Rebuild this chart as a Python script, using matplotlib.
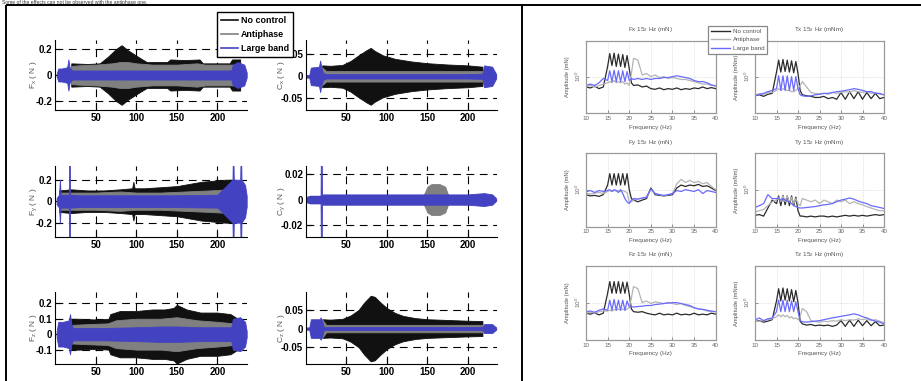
import numpy as np
import matplotlib
matplotlib.use('Agg')
import matplotlib.pyplot as plt
from matplotlib.lines import Line2D
from matplotlib.ticker import NullLocator

plt.rcParams['font.family'] = ['Liberation Sans', 'DejaVu Sans']
plt.rcParams['mathtext.fontset'] = 'custom'
plt.rcParams['mathtext.rm'] = 'Liberation Sans'
plt.rcParams['mathtext.it'] = 'Liberation Sans:italic'
plt.rcParams['axes.unicode_minus'] = False

# ---------------- left panel: time signals (envelopes, N) ----------------
series_names = ['No control', 'Antiphase', 'Large band']
left_colors = ['#111111', '#808080', '#4343c2']

# Fx
fx_black_t = [20, 40, 55, 65, 75, 82, 90, 105, 113, 138, 142, 160, 178, 182, 200, 215, 218, 228]
fx_black_a = [0.09, 0.085, 0.09, 0.14, 0.2, 0.23, 0.19, 0.13, 0.1, 0.1, 0.12, 0.115, 0.12, 0.09, 0.09, 0.09, 0.12, 0.12]
fx_grey_t = [20, 30, 50, 70, 80, 90, 100, 120, 150, 175, 185, 200, 220, 228]
fx_grey_a = [0.07, 0.075, 0.08, 0.09, 0.1, 0.1, 0.09, 0.08, 0.08, 0.09, 0.08, 0.08, 0.08, 0.07]
fx_blue_t = [2, 4, 8, 15, 16.5, 18, 20, 22, 60, 100, 150, 200, 217, 219, 225, 233, 236]
fx_blue_a = [0.01, 0.05, 0.05, 0.06, 0.12, 0.06, 0.04, 0.035, 0.035, 0.035, 0.035, 0.035, 0.035, 0.08, 0.1, 0.08, 0.02]

# Cx
cx_black_t = [20, 30, 45, 55, 65, 75, 80, 85, 95, 110, 130, 150, 175, 200, 218]
cx_black_a = [0.025, 0.024, 0.026, 0.035, 0.048, 0.06, 0.065, 0.058, 0.048, 0.04, 0.034, 0.03, 0.027, 0.025, 0.022]
cx_grey_t = [18, 20, 25, 218]
cx_grey_a = [0.01, 0.02, 0.012, 0.012]
cx_blue_t = [0, 4, 6, 16, 17.5, 19, 21, 25, 100, 200, 218, 220, 230, 235]
cx_blue_a = [0.003, 0.003, 0.02, 0.022, 0.036, 0.02, 0.008, 0.005, 0.005, 0.005, 0.006, 0.025, 0.022, 0.005]

# Fy
fy_black_t = [5, 20, 40, 60, 80, 95, 96.5, 98, 110, 130, 150, 165, 180, 195, 210, 218]
fy_black_a = [0.1, 0.11, 0.1, 0.1, 0.11, 0.12, 0.18, 0.12, 0.12, 0.13, 0.14, 0.16, 0.18, 0.19, 0.2, 0.2]
fy_grey_t = [5, 20, 50, 80, 100, 130, 160, 190, 215, 218]
fy_grey_a = [0.08, 0.08, 0.08, 0.09, 0.08, 0.08, 0.09, 0.1, 0.11, 0.1]
fy_blue_t = [2, 5, 6, 7, 17, 17.3, 18.3, 18.6, 30, 100, 150, 200, 218.5, 218.8, 219.8, 220.1, 228, 228.3, 229.3, 229.6, 234, 236]
fy_blue_a = [0.03, 0.06, 0.2, 0.06, 0.06, 0.33, 0.33, 0.06, 0.055, 0.055, 0.055, 0.06, 0.2, 0.33, 0.33, 0.2, 0.2, 0.33, 0.33, 0.2, 0.15, 0.05]

# Cy
cy_black_t = [5, 218]
cy_black_a = [0.003, 0.003]
cy_grey_t = [145, 150, 155, 165, 172, 176]
cy_grey_a = [0.003, 0.01, 0.012, 0.012, 0.01, 0.003]
cy_blue_t = [0, 5, 18, 18.3, 19.5, 19.8, 22, 100, 150, 200, 220, 230, 235]
cy_blue_a = [0.002, 0.003, 0.003, 0.029, 0.029, 0.004, 0.004, 0.004, 0.004, 0.004, 0.005, 0.004, 0.001]

# Fz
fz_black_t = [20, 30, 50, 66, 68, 80, 100, 120, 135, 146, 150, 162, 179, 200, 216, 225]
fz_black_a = [0.1, 0.1, 0.095, 0.1, 0.13, 0.15, 0.15, 0.16, 0.16, 0.17, 0.19, 0.16, 0.14, 0.14, 0.13, 0.1]
fz_grey_t = [20, 40, 65, 75, 100, 130, 150, 175, 200, 220]
fz_grey_a = [0.06, 0.065, 0.07, 0.09, 0.1, 0.1, 0.11, 0.09, 0.08, 0.07]
fz_blue_t = [2, 4, 10, 17, 18.5, 20, 22, 60, 100, 130, 150, 180, 217, 219, 228, 234, 236]
fz_blue_a = [0.02, 0.08, 0.08, 0.09, 0.13, 0.07, 0.04, 0.04, 0.045, 0.05, 0.05, 0.045, 0.045, 0.1, 0.11, 0.08, 0.02]

# Cz
cz_black_t = [20, 30, 45, 55, 65, 72, 80, 85, 92, 100, 110, 120, 135, 150, 175, 200, 218]
cz_black_a = [0.025, 0.024, 0.026, 0.035, 0.05, 0.07, 0.088, 0.085, 0.07, 0.055, 0.042, 0.034, 0.028, 0.025, 0.023, 0.021, 0.02]
cz_grey_t = [18, 20, 25, 218]
cz_grey_a = [0.012, 0.025, 0.01, 0.01]
cz_blue_t = [0, 4, 6, 17, 18, 20, 22, 100, 200, 218, 220, 230, 235]
cz_blue_a = [0.003, 0.003, 0.025, 0.025, 0.03, 0.02, 0.004, 0.004, 0.004, 0.004, 0.012, 0.012, 0.003]

left_ylabels = ['F$_\\mathrm{x}$ ( N )', 'C$_\\mathrm{x}$ ( N )', 'F$_\\mathrm{y}$ ( N )',
                'C$_\\mathrm{y}$ ( N )', 'F$_\\mathrm{z}$ ( N )', 'C$_\\mathrm{z}$ ( N )']
left_yticks = [[-0.2, 0, 0.2], [-0.05, 0, 0.05], [-0.2, 0, 0.2],
               [-0.02, 0, 0.02], [-0.1, 0, 0.1, 0.2], [-0.05, 0, 0.05]]
left_ylims = [(-0.27, 0.27), (-0.077, 0.083), (-0.333, 0.327),
              (-0.029, 0.026), (-0.193, 0.273), (-0.095, 0.098)]
left_xticks = [50, 100, 150, 200]

# ---------------- right panel: spectra ----------------
freq = [10, 11, 12, 13, 14, 15, 15.5, 16, 16.5, 17, 17.5, 18, 18.5, 19, 19.5, 20, 20.5,
        21, 22, 23, 24, 25, 26, 27, 28, 29, 30, 31, 32, 33, 34, 35, 36, 37, 38, 39, 40]

fx_spec_black = [0.55, 0.52, 0.58, 0.5, 0.55, 1.8, 3.8, 1.9, 3.9, 1.8, 3.7, 1.8, 3.6, 1.7, 3.4, 1.6, 0.7,
                 0.6, 0.62, 0.55, 0.58, 0.5, 0.48, 0.52, 0.47, 0.5, 0.48, 0.52, 0.47, 0.5, 0.48, 0.52, 0.5, 0.55, 0.5, 0.53, 0.5]
fx_spec_grey = [0.55, 0.6, 0.55, 0.6, 0.65, 0.7, 0.75, 0.7, 0.8, 0.7, 0.75, 0.7, 0.75, 0.65, 0.7, 0.6, 1.2,
                2.9, 2.6, 1.1, 1.2, 1.0, 1.1, 0.95, 1.0, 0.9, 0.95, 0.9, 0.85, 0.85, 0.8, 0.75, 0.7, 0.65, 0.65, 0.6, 0.6]
fx_spec_blue = [0.6, 0.65, 0.6, 0.7, 0.9, 0.8, 1.4, 0.75, 1.45, 0.75, 1.4, 0.75, 1.4, 0.75, 1.35, 0.8, 0.9,
                0.85, 0.9, 0.85, 0.9, 0.85, 0.9, 0.9, 0.95, 0.95, 1.0, 1.05, 1.0, 0.95, 0.9, 0.8, 0.75, 0.75, 0.7, 0.62, 0.58]

tx_spec_black = [0.33, 0.35, 0.32, 0.36, 0.38, 1.3, 2.6, 1.3, 2.7, 1.35, 2.6, 1.3, 2.5, 1.25, 2.4, 1.2, 0.45,
                 0.35, 0.33, 0.32, 0.3, 0.3, 0.32, 0.28, 0.3, 0.27, 0.4, 0.27, 0.42, 0.28, 0.42, 0.27, 0.4, 0.28, 0.38, 0.28, 0.3]
tx_spec_grey = [0.35, 0.37, 0.36, 0.4, 0.4, 0.45, 0.5, 0.45, 0.5, 0.48, 0.45, 0.45, 0.42, 0.42, 0.45, 0.5, 0.6,
                0.75, 0.55, 0.4, 0.38, 0.37, 0.38, 0.36, 0.4, 0.38, 0.4, 0.42, 0.4, 0.45, 0.42, 0.4, 0.42, 0.38, 0.4, 0.36, 0.35]
tx_spec_blue = [0.33, 0.36, 0.38, 0.42, 0.45, 0.5, 1.05, 0.45, 1.05, 0.45, 1.05, 0.45, 1.0, 0.45, 1.0, 0.5, 0.35,
                0.33, 0.32, 0.33, 0.35, 0.36, 0.38, 0.38, 0.4, 0.42, 0.43, 0.45, 0.47, 0.5, 0.48, 0.45, 0.42, 0.42, 0.38, 0.38, 0.35]

fy_spec_black = [0.75, 0.7, 0.72, 0.68, 0.75, 1.3, 2.5, 1.3, 2.5, 1.3, 2.5, 1.3, 2.5, 1.3, 2.5, 1.0, 0.6,
                 0.55, 0.5, 0.55, 0.6, 1.1, 0.75, 0.72, 0.7, 0.72, 0.75, 1.1, 1.3, 1.2, 1.3, 1.25, 1.35, 1.2, 1.25, 1.1, 0.95]
fy_spec_grey = [0.8, 0.78, 0.82, 0.85, 0.8, 0.9, 0.95, 0.9, 0.95, 0.92, 0.95, 0.9, 0.95, 0.9, 0.85, 0.5, 0.5,
                0.55, 0.6, 0.6, 0.65, 1.0, 0.8, 0.75, 0.7, 0.75, 0.8, 1.4, 1.8, 1.5, 1.7, 1.5, 1.6, 1.4, 1.5, 1.2, 1.0]
fy_spec_blue = [0.88, 0.95, 0.85, 0.95, 0.9, 0.95, 1.0, 0.9, 1.0, 0.95, 0.85, 1.0, 0.8, 0.6, 0.5, 0.45, 0.55,
                0.6, 0.58, 0.62, 0.65, 1.05, 0.8, 0.75, 0.72, 0.75, 0.8, 0.95, 0.9, 1.0, 0.95, 0.9, 1.0, 0.8, 0.95, 0.9, 0.85]

ty_spec_black = [0.23, 0.24, 0.22, 0.35, 0.55, 0.45, 0.7, 0.4, 0.72, 0.42, 0.7, 0.4, 0.7, 0.4, 0.65, 0.3, 0.22,
                 0.22, 0.21, 0.22, 0.21, 0.22, 0.22, 0.21, 0.22, 0.21, 0.22, 0.23, 0.22, 0.23, 0.22, 0.23, 0.22, 0.23, 0.24, 0.23, 0.24]
ty_spec_grey = [0.28, 0.3, 0.32, 0.4, 0.5, 0.55, 0.65, 0.5, 0.7, 0.5, 0.7, 0.48, 0.65, 0.45, 0.6, 0.45, 0.4,
                0.6, 0.55, 0.5, 0.55, 0.45, 0.55, 0.5, 0.45, 0.55, 0.5, 0.55, 0.45, 0.5, 0.45, 0.42, 0.38, 0.35, 0.32, 0.3, 0.3]
ty_spec_blue = [0.36, 0.4, 0.45, 0.75, 0.6, 0.6, 0.62, 0.55, 0.6, 0.55, 0.52, 0.5, 0.45, 0.4, 0.38, 0.36, 0.35,
                0.35, 0.36, 0.37, 0.38, 0.4, 0.42, 0.43, 0.45, 0.5, 0.55, 0.58, 0.62, 0.58, 0.52, 0.48, 0.45, 0.4, 0.38, 0.36, 0.34]

fz_spec_black = [0.55, 0.52, 0.56, 0.5, 0.55, 1.7, 3.3, 1.7, 3.3, 1.7, 3.3, 1.7, 3.2, 1.7, 3.2, 1.6, 0.7,
                 0.6, 0.58, 0.6, 0.55, 0.52, 0.5, 0.55, 0.5, 0.52, 0.5, 0.55, 0.5, 0.52, 0.5, 0.55, 0.5, 0.52, 0.5, 0.55, 0.52]
fz_spec_grey = [0.55, 0.58, 0.55, 0.6, 0.62, 0.62, 0.65, 0.62, 0.68, 0.65, 0.7, 0.65, 0.7, 0.65, 0.7, 0.75, 1.3,
                2.5, 2.2, 1.0, 1.1, 0.95, 1.05, 1.0, 0.95, 1.0, 0.95, 0.9, 0.95, 0.85, 0.8, 0.75, 0.7, 0.68, 0.62, 0.6, 0.6]
fz_spec_blue = [0.6, 0.62, 0.58, 0.65, 0.7, 0.65, 1.15, 0.65, 1.2, 0.65, 1.15, 0.65, 1.15, 0.65, 1.1, 0.8, 0.8,
                0.78, 0.8, 0.82, 0.85, 0.85, 0.9, 0.92, 0.95, 0.98, 1.0, 1.0, 0.95, 0.9, 0.85, 0.75, 0.7, 0.68, 0.65, 0.62, 0.6]

tz_spec_black = [0.34, 0.36, 0.33, 0.35, 0.38, 1.1, 2.2, 1.1, 2.3, 1.15, 2.2, 1.1, 2.1, 1.05, 2.0, 1.0, 0.35,
                 0.3, 0.28, 0.29, 0.27, 0.28, 0.27, 0.28, 0.26, 0.28, 0.36, 0.26, 0.37, 0.26, 0.37, 0.27, 0.36, 0.27, 0.34, 0.27, 0.28]
tz_spec_grey = [0.34, 0.35, 0.36, 0.38, 0.4, 0.45, 0.5, 0.45, 0.5, 0.45, 0.48, 0.42, 0.45, 0.4, 0.42, 0.38, 0.45,
                0.72, 0.6, 0.36, 0.34, 0.33, 0.35, 0.34, 0.36, 0.35, 0.38, 0.36, 0.38, 0.37, 0.4, 0.38, 0.4, 0.36, 0.38, 0.35, 0.32]
tz_spec_blue = [0.37, 0.42, 0.36, 0.4, 0.42, 0.6, 1.16, 0.6, 1.15, 0.6, 1.15, 0.6, 1.1, 0.6, 1.05, 0.6, 0.36,
                0.34, 0.33, 0.34, 0.35, 0.36, 0.38, 0.4, 0.42, 0.44, 0.46, 0.48, 0.5, 0.53, 0.5, 0.45, 0.42, 0.38, 0.35, 0.33, 0.3]

right_titles = ['Fx 15$_2$ Hz (mN)', 'Tx 15$_2$ Hz (mNm)', 'Fy 15$_2$ Hz (mN)',
                'Ty 15$_2$ Hz (mNm)', 'Fz 15$_2$ Hz (mN)', 'Tz 15$_2$ Hz (mNm)']
right_ylabels = ['Amplitude (mN)', 'Amplitude (mNm)'] * 3
right_xticks = [10, 15, 20, 25, 30, 35, 40]
right_colors = ['#2a2a2a', '#b4b4b4', '#6a6aff']

left_data = [
    [(fx_black_t, fx_black_a), (fx_grey_t, fx_grey_a), (fx_blue_t, fx_blue_a)],
    [(cx_black_t, cx_black_a), (cx_grey_t, cx_grey_a), (cx_blue_t, cx_blue_a)],
    [(fy_black_t, fy_black_a), (fy_grey_t, fy_grey_a), (fy_blue_t, fy_blue_a)],
    [(cy_black_t, cy_black_a), (cy_grey_t, cy_grey_a), (cy_blue_t, cy_blue_a)],
    [(fz_black_t, fz_black_a), (fz_grey_t, fz_grey_a), (fz_blue_t, fz_blue_a)],
    [(cz_black_t, cz_black_a), (cz_grey_t, cz_grey_a), (cz_blue_t, cz_blue_a)],
]
right_data = [
    [fx_spec_black, fx_spec_grey, fx_spec_blue],
    [tx_spec_black, tx_spec_grey, tx_spec_blue],
    [fy_spec_black, fy_spec_grey, fy_spec_blue],
    [ty_spec_black, ty_spec_grey, ty_spec_blue],
    [fz_spec_black, fz_spec_grey, fz_spec_blue],
    [tz_spec_black, tz_spec_grey, tz_spec_blue],
]

W, H = 921, 381
fig = plt.figure(figsize=(W / 100, H / 100), dpi=100)


def px_axes(x0, x1, y0, y1):
    return fig.add_axes([x0 / W, 1 - y1 / H, (x1 - x0) / W, (y1 - y0) / H])


# caption line above the frame (mostly cropped in the source picture)
fig.text(2 / W, 1 - 0.2 / H, 'Some of the effects can not be observed with the antiphase one.',
         fontsize=3.6, va='top', ha='left', color='#333333')

# frame lines
frame_kw = dict(color='black', lw=1.4, transform=fig.transFigure, solid_capstyle='butt')
fig.add_artist(Line2D([6 / W, 1], [1 - 5 / H, 1 - 5 / H], **frame_kw))
fig.add_artist(Line2D([6 / W, 6 / W], [0, 1 - 5 / H], **frame_kw))
fig.add_artist(Line2D([521.5 / W, 521.5 / W], [0, 1 - 5 / H], **frame_kw))

# left panel
left_cols = [(55, 246.7), (306, 497)]
left_rows = [(40, 110), (166, 237), (292, 364)]
label_x = [-0.085, -0.1]
for i, series in enumerate(left_data):
    r, c = divmod(i, 2)
    ax = px_axes(left_cols[c][0], left_cols[c][1], left_rows[r][0], left_rows[r][1])
    for (t, a), col in zip(series, left_colors):
        t = np.asarray(t, dtype=float)
        a = np.asarray(a, dtype=float)
        ax.fill_between(t, -a, a, color=col, linewidth=0.6, edgecolor=col)
    ax.set_xlim(0, 236)
    ax.set_ylim(*left_ylims[i])
    ax.set_xticks(left_xticks)
    ax.set_xticklabels([str(v) for v in left_xticks], fontweight='bold')
    ax.set_yticks(left_yticks[i])
    ax.set_yticklabels(['%g' % v for v in left_yticks[i]], fontweight='bold')
    ax.tick_params(direction='in', length=4, width=0.8, labelsize=7, pad=2)
    ax.grid(True, color='black', linestyle=(0, (7, 5)), linewidth=0.8)
    ax.set_axisbelow(True)
    for s in ['top', 'right']:
        ax.spines[s].set_visible(False)
    for s in ['left', 'bottom']:
        ax.spines[s].set_linewidth(0.8)
    ax.set_ylabel(left_ylabels[i], fontsize=6, color='#555555')
    ax.yaxis.set_label_coords(label_x[c], 0.5)

handles = [Line2D([], [], color=col, lw=1.2) for col in left_colors]
leg = fig.legend(handles, series_names, loc='upper left', bbox_to_anchor=(216.7 / W, 1 - 11.7 / H),
                 prop={'weight': 'bold', 'size': 6.4}, frameon=True, fancybox=False,
                 edgecolor='black', framealpha=1, borderpad=0.45, handlelength=1.9,
                 handletextpad=0.35, labelspacing=0.6, borderaxespad=0)
leg.get_frame().set_linewidth(1.0)

# right panel
right_cols = [(586, 715.7), (755, 884)]
right_rows = [(40.7, 113.3), (153.3, 226.7), (266, 340)]
for i, series in enumerate(right_data):
    r, c = divmod(i, 2)
    ax = px_axes(right_cols[c][0], right_cols[c][1], right_rows[r][0], right_rows[r][1])
    for vals, col in zip(series, right_colors):
        ax.plot(freq, vals, color=col, lw=0.9)
    ax.set_yscale('log')
    ax.set_xlim(10, 40)
    ax.set_ylim(0.12, 8)
    ax.set_xticks(right_xticks)
    ax.set_yticks([1])
    ax.set_yticklabels(['10$^0$'], rotation=90, va='center')
    ax.yaxis.set_minor_locator(NullLocator())
    ax.tick_params(direction='in', length=2, width=0.5, labelsize=4.5, colors='#666666', pad=2)
    ax.grid(True, color='#c8c8c8', linestyle=':', linewidth=0.5)
    for s in ax.spines.values():
        s.set_color('#999999')
        s.set_linewidth(0.9)
    ax.set_title(right_titles[i], fontsize=4.5, color='#555555', pad=7)
    ax.set_xlabel('Frequency (Hz)', fontsize=4.5, color='#555555', labelpad=2.5)
    ax.set_ylabel(right_ylabels[i], fontsize=4.2, color='#555555', labelpad=3)

rhandles = [Line2D([], [], color=col, lw=1.0) for col in right_colors]
rleg = fig.legend(rhandles, series_names, loc='upper left', bbox_to_anchor=(708 / W, 1 - 25.7 / H),
                  fontsize=4.5, frameon=True, fancybox=False, edgecolor='#888888', framealpha=1,
                  borderpad=0.45, handlelength=3.0, handletextpad=0.5, labelspacing=0.5, borderaxespad=0)
rleg.get_frame().set_linewidth(0.9)
for txt in rleg.get_texts():
    txt.set_color('#555555')

fig.savefig('out.png', dpi=100)
